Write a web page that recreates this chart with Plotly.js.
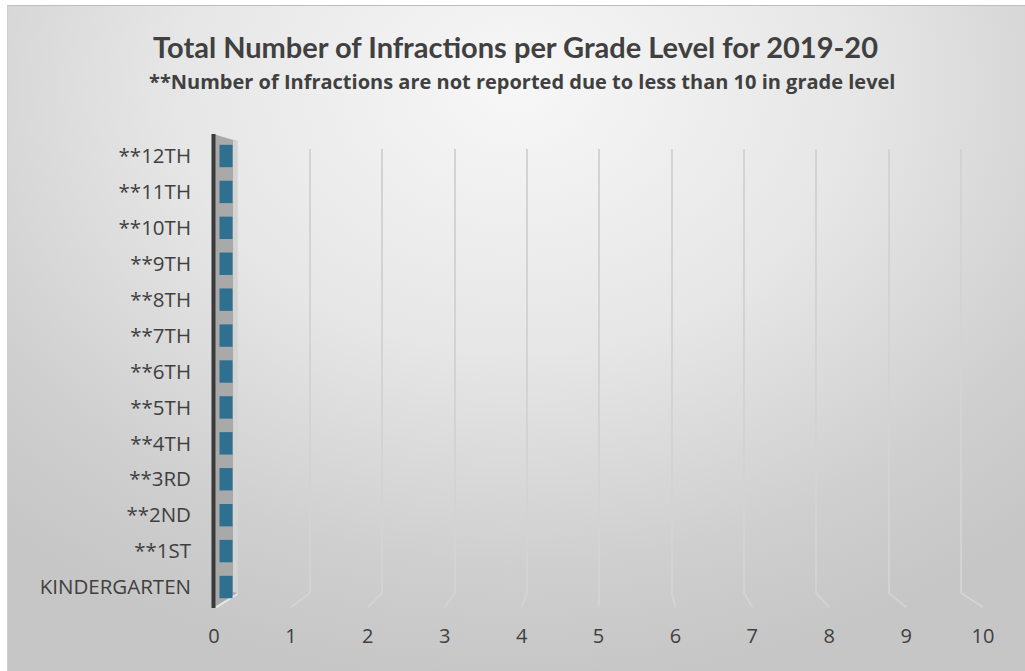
<!DOCTYPE html>
<html>
<head>
<meta charset="utf-8">
<script src="https://cdn.plot.ly/plotly-3.0.1.min.js"></script>
<style>
html,body{margin:0;padding:0;background:#ffffff;width:1025px;height:671px;overflow:hidden;}
#frame{position:absolute;left:7px;top:5px;width:1018px;height:666px;
background:radial-gradient(ellipse 75% 90% at 50% 12%, #f7f7f7 0%, #e6e6e6 45%, #cfcfcf 80%, #c6c6c6 100%);
border-top:1px solid #bdbdbd;border-left:1px solid #d0d0d0;box-sizing:border-box;}
#chart{position:absolute;left:-7px;top:-5px;width:1025px;height:671px;}
</style>
</head>
<body>
<div id="frame"><div id="chart"></div></div>
<script>
var categories = ["KINDERGARTEN","**1ST","**2ND","**3RD","**4TH","**5TH","**6TH","**7TH","**8TH","**9TH","**10TH","**11TH","**12TH"];
var infractions = [0,0,0,0,0,0,0,0,0,0,0,0,0];
var tickValues = [0,1,2,3,4,5,6,7,8,9,10];
var gridValues = [1,2,3,4,5,6,7,8,9,10];

var titleFont = "Lato, 'Open Sans', sans-serif";
var textFont = "'Open Sans', Lato, sans-serif";

// axis ranges: bars (x), front labels (x2), back wall grid (x3)
var rangeBars = [-0.3457, 10.715];
var rangeLabels = [-0.169, 10.234];
var rangeGrid = [-0.5074, 10.553];
function toPaper(v, r) { return (v - r[0]) / (r[1] - r[0]); }

var bars = {
  type: "scatter", mode: "markers",
  x: infractions, y: categories,
  xaxis: "x", yaxis: "y",
  marker: {symbol: "line-ns-open", size: 16, color: "#2f6f8f",
           line: {width: 13, color: "#2f6f8f"}},
  hoverinfo: "x+y", showlegend: false, cliponaxis: false
};
var labelHolder = {
  type: "scatter", mode: "markers", x: tickValues, y: tickValues.map(function(){return categories[0];}),
  xaxis: "x2", yaxis: "y", marker: {opacity: 0}, hoverinfo: "skip", showlegend: false
};
var gridHolder = {
  type: "scatter", mode: "markers", x: gridValues, y: gridValues.map(function(){return categories[0];}),
  xaxis: "x3", yaxis: "y", marker: {opacity: 0}, hoverinfo: "skip", showlegend: false
};

var shapes = [
  {type: "path", xref: "paper", yref: "paper",
   path: "M 0.015 -0.034 L 0.015 1.034 L 0.045 1.018 L 0.045 0.0 Z",
   fillcolor: "#a9a9a9", line: {width: 0}, layer: "below"},
  {type: "path", xref: "paper", yref: "paper",
   path: "M 0.040 0.002 L 0.040 1.02 L 0.046 1.018 L 0.046 0.0 Z",
   fillcolor: "#d4d4d4", line: {width: 0}, layer: "below"},
  {type: "path", xref: "paper", yref: "paper",
   path: "M 0.015 -0.034 L 0.046 0.0 L 0.046 -0.004 L 0.02 -0.034 Z",
   fillcolor: "#e8e8e8", line: {width: 0}, layer: "below"},
  {type: "line", xref: "paper", yref: "paper", x0: 0.0156, x1: 0.0156, y0: -0.034, y1: 1.034,
   line: {color: "#3a3a3a", width: 4}, layer: "above"}
];
gridValues.forEach(function(k){
  shapes.push({type: "line", xref: "paper", yref: "paper",
    x0: toPaper(k, rangeGrid), y0: 0, x1: toPaper(k, rangeLabels), y1: -0.032,
    line: {color: "#d3d3d3", width: 2}, layer: "below"});
});

var layout = {
  width: 1025, height: 671,
  paper_bgcolor: "rgba(0,0,0,0)",
  plot_bgcolor: "rgba(0,0,0,0)",
  margin: {l: 200, r: 25, t: 148, b: 79},
  title: {
    text: "<b>Total Number of Infractions per Grade Level for 2019-20</b>",
    font: {family: titleFont, size: 29, color: "#404040"},
    x: 0.502, xanchor: "center", yref: "container", y: 0.930, yanchor: "middle"
  },
  annotations: [{
    text: "<b>**Number of Infractions are not reported due to less than 10 in grade level</b>",
    xref: "paper", yref: "paper", x: 0.401, y: 1.151, xanchor: "center", yanchor: "middle",
    showarrow: false, font: {family: textFont, size: 20, color: "#404040"}
  }],
  xaxis: {
    range: rangeBars, showticklabels: false, showgrid: false,
    zeroline: false, showline: false, ticks: "", fixedrange: true
  },
  xaxis2: {
    overlaying: "x", side: "bottom", anchor: "y",
    range: rangeLabels, tickvals: tickValues, ticktext: tickValues.map(String),
    showgrid: false, zeroline: false, showline: false, ticks: "",
    ticklabelstandoff: 29,
    tickfont: {family: textFont, size: 20, color: "#404040"},
    fixedrange: true
  },
  xaxis3: {
    overlaying: "x", side: "bottom", anchor: "y",
    range: rangeGrid, tickvals: gridValues, showticklabels: false,
    showgrid: true, gridcolor: "#d3d3d3", gridwidth: 2,
    zeroline: false, showline: false, ticks: "", fixedrange: true
  },
  yaxis: {
    type: "category",
    categoryorder: "array", categoryarray: categories,
    range: [-0.167, 12.195],
    showgrid: false, zeroline: false, showline: false, ticks: "",
    ticklabelstandoff: 9,
    tickfont: {family: textFont, size: 20.5, color: "#404040"},
    fixedrange: true
  },
  shapes: shapes
};

Plotly.newPlot("chart", [gridHolder, labelHolder, bars], layout, {displayModeBar: false, staticPlot: true});
</script>
</body>
</html>
